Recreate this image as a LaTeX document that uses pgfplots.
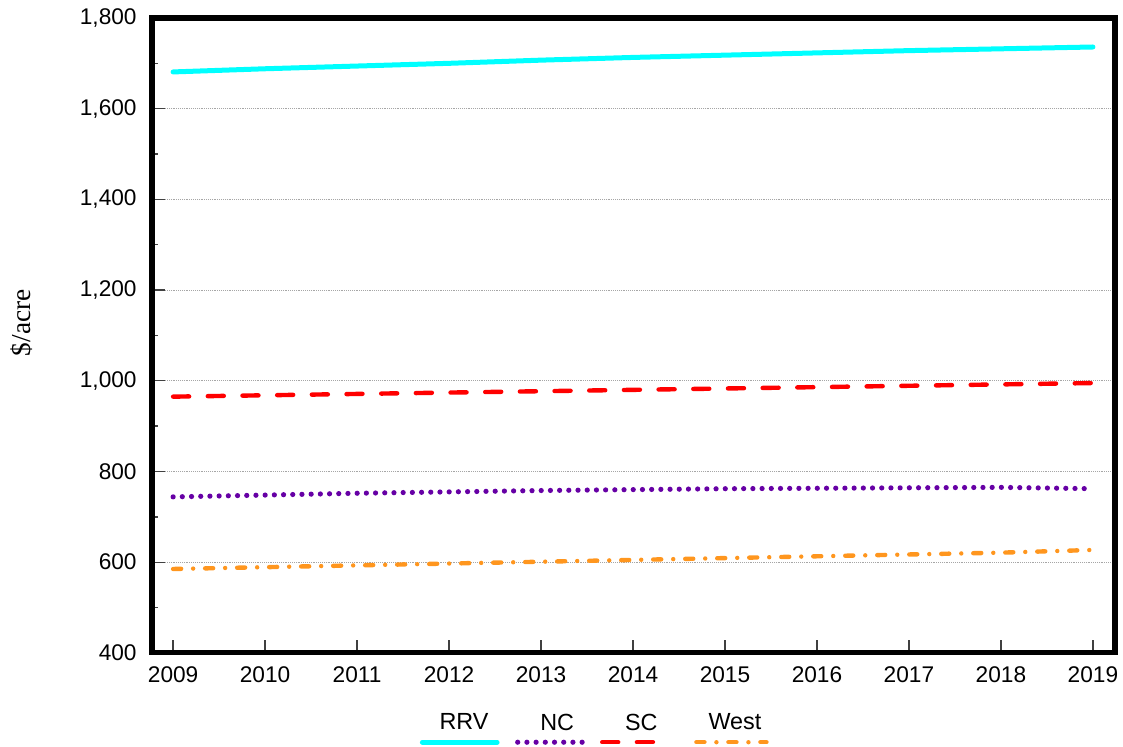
\documentclass[border=0pt]{standalone}
\usepackage{fontspec}
\setmainfont{Liberation Sans}
\newfontfamily\seriffont{Liberation Serif}
\usepackage{pgfplots}
\pgfplotsset{compat=1.18}
\definecolor{rrv}{RGB}{0,255,255}
\definecolor{ncc}{RGB}{102,0,165}
\definecolor{scc}{RGB}{255,0,0}
\definecolor{west}{RGB}{255,150,30}
\pgfplotsset{legimg/.style n args={2}{legend image code/.code={\path (0pt,0pt); \draw[##1,overlay] (#1,-14.5pt) -- (#2,-14.5pt);}}}
\begin{document}
\begin{tikzpicture}
\begin{axis}[
  scale only axis, width=722pt, height=476pt,
  xmin=2008.77, xmax=2019.24, ymin=400, ymax=1800,
  clip=false,
  xtick={2009,2010,...,2019},
  ytick={400,600,...,1800},
  minor ytick={500,700,...,1700},
  tick align=inside,
  xtick pos=bottom, ytick pos=left,
  major tick length=9.5pt, minor tick length=4.5pt,
  every tick/.style={line width=1pt, color=black!75},
  axis line style={line width=3.8pt},
  ymajorgrids, major grid style={densely dotted, gray!70, line width=0.6pt},
  font=\fontsize{17}{20}\selectfont,
  /pgf/number format/assume math mode=true,
  y tick label style={xshift=-8pt, /pgf/number format/.cd, 1000 sep={,}},
  x tick label style={yshift=-7pt, /pgf/number format/.cd, 1000 sep={}},
  ylabel={\seriffont\fontsize{20.5}{24}\selectfont \$/acre},
  ylabel style={at={(axis description cs:-0.135,0.52)}, anchor=center, rotate=0},
  legend columns=4,
  legend cell align=left,
  legend style={draw=none, fill=none, at={(axis description cs:0.289,-0.087)}, anchor=north west,
    nodes={inner xsep=0pt, font=\fontsize{17.5}{20}\selectfont},
    /tikz/every even column/.append style={column sep=35pt}},
]
\addplot[rrv, line width=3.75pt, line cap=round, legimg={-11pt}{45pt}]
  coordinates {(2009,1681) (2010,1688) (2011,1694) (2012,1700) (2013,1707) (2014,1713) (2015,1718) (2016,1723) (2017,1728) (2018,1732) (2019,1736)};
\addlegendentry{RRV}
\addplot[ncc, line width=3.9pt, line cap=round, dash pattern=on 0pt off 6.9pt, legimg={-15pt}{37.5pt}]
  coordinates {(2009,744) (2010,748) (2011,752) (2012,755) (2013,758) (2014,760) (2015,762) (2016,763) (2017,764) (2018,765) (2019,762)};
\addlegendentry{NC}
\addplot[scc, line width=3.3pt, line cap=round, dash pattern=on 12pt off 14pt, legimg={-15.5pt}{27pt}]
  coordinates {(2009,965) (2010,968) (2011,971) (2012,974) (2013,977) (2014,980) (2015,983) (2016,986) (2017,989) (2018,992) (2019,995)};
\addlegendentry{SC}
\addplot[west, line width=3.3pt, line cap=round, dash pattern=on 6pt off 9pt on 0pt off 9pt, legimg={-7.5pt}{45pt}]
  coordinates {(2009,585) (2010,589) (2011,593) (2012,597) (2013,601) (2014,605) (2015,609) (2016,613) (2017,617) (2018,621) (2019,627)};
\addlegendentry{West}
\path (rel axis cs:-0.1578,-0.148) rectangle (rel axis cs:1.0083,1.0283);
\end{axis}
\end{tikzpicture}
\end{document}
